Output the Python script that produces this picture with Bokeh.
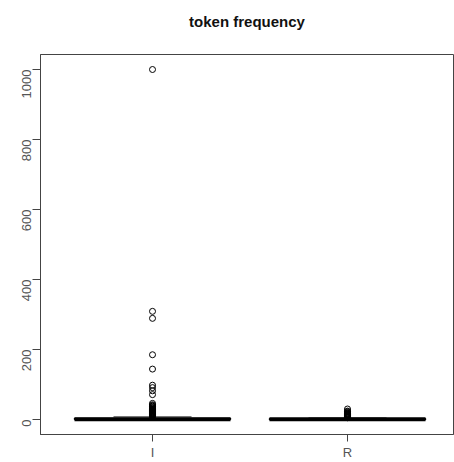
import math
from bokeh.plotting import figure
from bokeh.models import FixedTicker, Title
from bokeh.embed import file_html
from bokeh.resources import INLINE

# ---- data ----
title_text = "token frequency"
categories = ["I", "R"]
q1 = [1, 0]
medians = [1, 1]
q3 = [3, 2]
whisker_low = [0, 0]
whisker_high = [8, 4]
outliers_I = [1000, 309, 289, 185, 144, 98, 91, 82, 71, 46, 42, 40, 38, 36, 34, 32,
              30, 29, 28, 27, 26, 25, 24, 23, 22, 21, 20, 19, 18, 17, 16, 15, 14, 13,
              12, 11, 10, 9]
outliers_R = [30, 24, 22, 20, 18, 17, 16, 15, 14, 13, 12, 11, 10, 9, 8, 7, 6, 5]
y_ticks = [0, 200, 400, 600, 800, 1000]

FRAME = "#444444"
FONT = "Liberation Sans"
W, H = 454, 462
X0, X1 = 0.4256, 2.5436

p = figure(width=W, height=H, output_backend="svg", toolbar_location=None,
           x_range=(X0, X1), y_range=(-42.9, 1042.9),
           min_border_left=40, min_border_right=1, min_border_top=54,
           min_border_bottom=28)
p.xgrid.visible = False
p.ygrid.visible = False
p.outline_line_color = FRAME
p.outline_line_width = 1
p.background_fill_color = "white"
p.border_fill_color = "white"

# real title, with a blank spacer title between it and the frame
p.title.text = title_text
p.title.align = "center"
p.title.text_font = FONT
p.title.text_font_size = "15px"
p.title.text_font_style = "bold"
p.title.text_color = "#111111"
p.title.standoff = 4
p.add_layout(Title(text=" ", text_font_size="10px", standoff=10), "above")

# y axis
p.yaxis.ticker = FixedTicker(ticks=y_ticks)
p.yaxis.major_label_orientation = math.pi / 2
p.yaxis.major_tick_out = 8
p.yaxis.major_tick_in = 0
p.yaxis.minor_tick_line_color = None
p.yaxis.axis_line_color = FRAME
p.yaxis.major_tick_line_color = FRAME
p.yaxis.major_label_text_font = FONT
p.yaxis.major_label_text_font_size = "13px"
p.yaxis.major_label_text_color = "#555555"
p.yaxis.major_label_standoff = 6

# x axis
xpos = list(range(1, len(categories) + 1))
p.xaxis.ticker = FixedTicker(ticks=xpos)
p.xaxis.major_label_overrides = {x: c for x, c in zip(xpos, categories)}
p.xaxis.major_tick_out = 7
p.xaxis.major_tick_in = 0
p.xaxis.minor_tick_line_color = None
p.xaxis.axis_line_color = FRAME
p.xaxis.major_tick_line_color = FRAME
p.xaxis.major_label_text_font = FONT
p.xaxis.major_label_text_font_size = "13px"
p.xaxis.major_label_text_color = "#555555"
p.xaxis.major_label_standoff = 3

box_half = 0.4
staple_half = 0.2
for i, x in enumerate(xpos):
    # whiskers (dashed)
    p.segment(x0=[x, x], y0=[q3[i], q1[i]], x1=[x, x], y1=[whisker_high[i], whisker_low[i]],
              line_color="black", line_width=1, line_dash="4 3")
    # staples
    p.segment(x0=[x - staple_half] * 2, y0=[whisker_high[i], whisker_low[i]],
              x1=[x + staple_half] * 2, y1=[whisker_high[i], whisker_low[i]],
              line_color="#777777", line_width=1.5)
    # box
    p.quad(left=[x - box_half], right=[x + box_half], bottom=[q1[i]], top=[q3[i]],
           fill_color="white", line_color="black", line_width=1.5)
    # median
    p.segment(x0=[x - box_half], y0=[medians[i]], x1=[x + box_half], y1=[medians[i]],
              line_color="black", line_width=4)

p.scatter(x=[xpos[0]] * len(outliers_I), y=outliers_I, marker="circle", size=6,
          fill_color=None, line_color="black", line_width=1)
p.scatter(x=[xpos[1]] * len(outliers_R), y=outliers_R, marker="circle", size=6,
          fill_color=None, line_color="black", line_width=1)

open("out.html", "w").write(file_html(p, INLINE))
